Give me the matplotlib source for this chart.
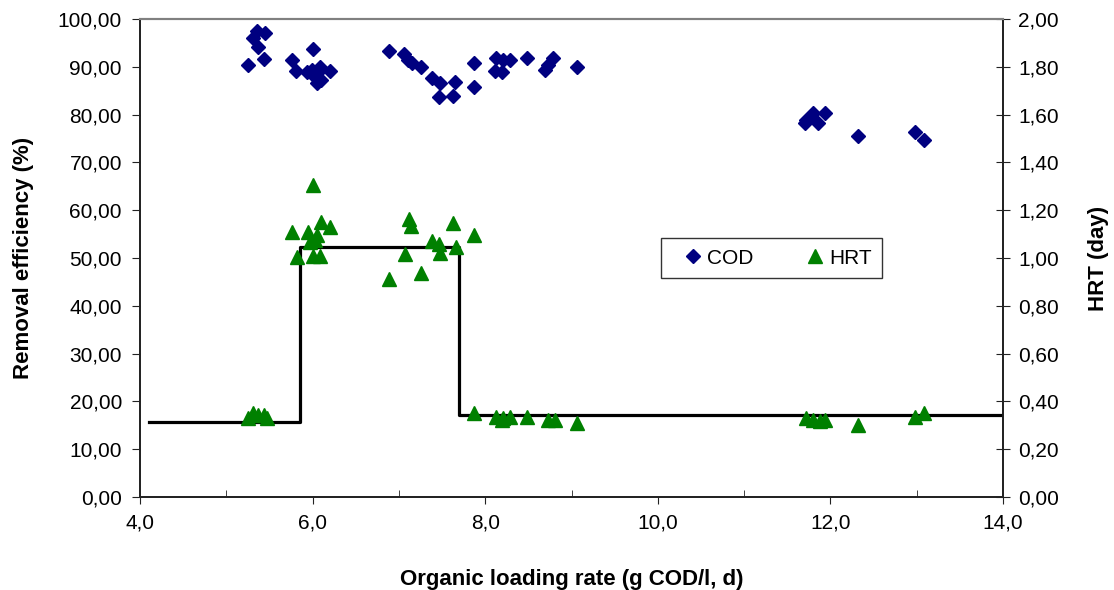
import matplotlib
matplotlib.use('Agg')
import matplotlib.pyplot as plt
from matplotlib.ticker import FuncFormatter, MultipleLocator
from matplotlib.lines import Line2D

plt.rcParams['font.family'] = ['Liberation Sans', 'DejaVu Sans']

# COD removal efficiency (%) vs organic loading rate
cod_olr = [5.25, 5.36, 5.45, 5.31, 5.37, 5.44, 5.76, 5.81, 6.01, 5.93, 6.05, 6.05,
           6.10, 6.08, 6.20, 5.99, 6.02, 6.88, 7.06, 7.11, 7.15, 7.26, 7.38, 7.48,
           7.65, 7.46, 7.63, 7.87, 7.87, 8.13, 8.21, 8.29, 8.11, 8.19, 8.48, 8.79,
           8.73, 8.69, 9.06, 11.71, 11.80, 11.94, 11.86, 11.72, 12.32, 12.98, 13.08]
cod_eff = [90.4, 97.5, 97.0, 96.0, 94.1, 91.6, 91.4, 89.1, 93.7, 88.9, 88.7, 86.6,
           87.2, 90.0, 89.1, 89.3, 88.0, 93.4, 92.7, 91.4, 90.8, 90.0, 87.7, 86.6,
           86.8, 83.7, 83.9, 90.8, 85.8, 91.8, 91.4, 91.4, 89.1, 88.9, 91.8, 91.8,
           90.4, 89.3, 90.0, 78.2, 80.3, 80.3, 78.2, 78.9, 75.6, 76.4, 74.7]

# HRT (day) vs organic loading rate
hrt_olr = [6.01, 5.76, 5.95, 6.10, 6.20, 6.05, 6.03, 5.97, 5.82, 6.00, 6.09,
           7.12, 7.14, 7.07, 6.88, 7.26, 7.38, 7.46, 7.48, 7.63, 7.66, 7.87,
           5.25, 5.31, 5.37, 5.44, 5.47, 7.87, 8.13, 8.21, 8.29, 8.19, 8.48,
           8.73, 8.81, 9.06, 11.72, 11.80, 11.88, 11.94, 12.32, 12.98, 13.08]
hrt_day = [1.305, 1.11, 1.11, 1.152, 1.131, 1.096, 1.075, 1.068, 1.005, 1.008, 1.008,
           1.162, 1.134, 1.015, 0.911, 0.936, 1.071, 1.057, 1.022, 1.148, 1.045, 1.096,
           0.329, 0.350, 0.343, 0.343, 0.330, 0.353, 0.333, 0.329, 0.336, 0.322, 0.336,
           0.322, 0.322, 0.308, 0.329, 0.322, 0.319, 0.322, 0.301, 0.336, 0.350]

# set HRT steps
step_olr = [4.1, 5.85, 7.7, 14.0]
step_hrt = [0.315, 1.045, 0.345, 0.345]

fig = plt.figure(figsize=(11.14, 5.90), dpi=100)
ax = fig.add_axes([0.1257, 0.1576, 0.7747, 0.8102])
ax2 = ax.twinx()

ax.plot(cod_olr, cod_eff, linestyle='none', marker='D', markersize=7,
        color='#000080', markeredgecolor='#000080', zorder=3)
ax2.plot(step_olr, step_hrt, drawstyle='steps-post', color='black', linewidth=2.3, zorder=2)
ax2.plot(hrt_olr, hrt_day, linestyle='none', marker='^', markersize=10,
         color='#008000', markeredgecolor='#008000', zorder=3)

ax.set_xlim(4.0, 14.0)
ax.set_ylim(0, 100)
ax2.set_ylim(0, 2.0)
ax.xaxis.set_major_locator(MultipleLocator(2))
ax.xaxis.set_minor_locator(MultipleLocator(1))
ax.yaxis.set_major_locator(MultipleLocator(10))
ax2.yaxis.set_major_locator(MultipleLocator(0.2))


def comma(d):
    return FuncFormatter(lambda v, p: (('%.' + str(d) + 'f') % v).replace('.', ','))


ax.xaxis.set_major_formatter(comma(1))
ax.yaxis.set_major_formatter(comma(2))
ax2.yaxis.set_major_formatter(comma(2))

tc = '#222222'
ax.tick_params(axis='x', which='major', direction='out', length=5, labelsize=15, pad=7, color=tc)
ax.tick_params(axis='x', which='minor', direction='in', length=5, color=tc)
ax.tick_params(axis='y', direction='out', length=6, labelsize=15, pad=7, color=tc)
ax2.tick_params(axis='y', direction='inout', length=10, labelsize=15, pad=6, color=tc)

for a in (ax, ax2):
    for s in ('left', 'right', 'bottom'):
        a.spines[s].set_color(tc)
        a.spines[s].set_linewidth(1.3)
    a.spines['top'].set_color('#808080')
    a.spines['top'].set_linewidth(1.5)

ax.set_xlabel('Organic loading rate (g COD/l, d)', fontsize=16, fontweight='bold', labelpad=26)
ax.set_ylabel('Removal efficiency (%)', fontsize=16, fontweight='bold', labelpad=17)
ax2.set_ylabel('HRT (day)', fontsize=16, fontweight='bold', labelpad=21)

handles = [Line2D([], [], linestyle='none', marker='D', markersize=7, color='#000080'),
           Line2D([], [], linestyle='none', marker='^', markersize=10, color='#008000')]
leg = ax2.legend(handles, ['COD', 'HRT'], ncol=2, loc='lower left',
                 bbox_to_anchor=(0.604, 0.458, 0.256, 0.092), mode='expand',
                 borderaxespad=0, fontsize=15, frameon=True, fancybox=False,
                 edgecolor='black', handlelength=2.0, handletextpad=-0.3,
                 columnspacing=1.5, borderpad=0.5)
leg.get_frame().set_linewidth(1.0)

fig.savefig('out.png', dpi=100)
